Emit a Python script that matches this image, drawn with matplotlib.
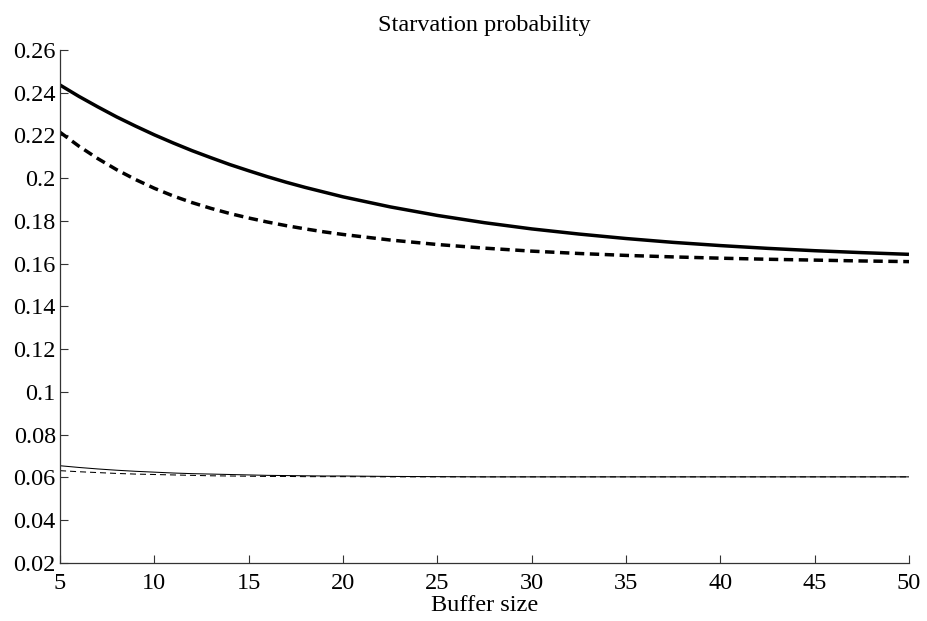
import numpy as np
import matplotlib
matplotlib.use("Agg")
import matplotlib.pyplot as plt

plt.rcParams['font.family'] = ['Liberation Serif', 'DejaVu Serif']

# buffer sizes where the curves were read
buffer_size = [5, 6, 7, 8, 9, 10, 11, 12, 13, 14, 15, 16, 17, 18, 19, 20,
               22.5, 25, 27.5, 30, 32.5, 35, 37.5, 40, 42.5, 45, 47.5, 50]

# thick curves (upper pair)
thick_solid = [0.2436, 0.2383, 0.2334, 0.2287, 0.2244, 0.2203, 0.2165, 0.2129,
               0.2096, 0.2064, 0.2035, 0.2007, 0.1981, 0.1957, 0.1935, 0.1913,
               0.1866, 0.1826, 0.1792, 0.1763, 0.1739, 0.1718, 0.1700, 0.1685,
               0.1672, 0.1661, 0.1652, 0.1644]
thick_dashed = [0.2215, 0.2150, 0.2092, 0.2040, 0.1994, 0.1953, 0.1917, 0.1886,
                0.1859, 0.1835, 0.1814, 0.1795, 0.1778, 0.1763, 0.1749, 0.1737,
                0.1711, 0.1690, 0.1673, 0.1659, 0.1648, 0.1639, 0.1632, 0.1626,
                0.1621, 0.1617, 0.1613, 0.1610]

# thin curves (lower pair)
thin_solid = [0.0655, 0.0647, 0.0640, 0.0634, 0.0629, 0.0625, 0.0621, 0.0618,
              0.0616, 0.0614, 0.0612, 0.0610, 0.0609, 0.0608, 0.0607, 0.0607,
              0.0605, 0.0604, 0.0603, 0.0603, 0.0603, 0.0603, 0.0603, 0.0603,
              0.0603, 0.0603, 0.0603, 0.0603]
thin_dashed = [0.0632, 0.0627, 0.0623, 0.0619, 0.0616, 0.0614, 0.0612, 0.0610,
               0.0608, 0.0607, 0.0606, 0.0605, 0.0605, 0.0604, 0.0604, 0.0604,
               0.0603, 0.0603, 0.0603, 0.0603, 0.0603, 0.0603, 0.0603, 0.0603,
               0.0603, 0.0603, 0.0603, 0.0603]

xticks = [5, 10, 15, 20, 25, 30, 35, 40, 45, 50]
yticks = [0.02, 0.04, 0.06, 0.08, 0.1, 0.12, 0.14, 0.16, 0.18, 0.2, 0.22, 0.24, 0.26]
ytick_labels = ['0.02', '0.04', '0.06', '0.08', '0.1', '0.12', '0.14', '0.16',
                '0.18', '0.2', '0.22', '0.24', '0.26']

fig = plt.figure(figsize=(9.28, 6.21), dpi=100)
ax = fig.add_axes([0.0647, 0.0934, 0.9148, 0.8261])

ax.plot(buffer_size, thick_solid, color='black', lw=2.5, solid_capstyle='butt')
ax.plot(buffer_size, thick_dashed, color='black', lw=2.5, linestyle=(0, (2.7, 1.6)),
        dash_capstyle='butt')
ax.plot(buffer_size, thin_solid, color='black', lw=0.75)
ax.plot(buffer_size, thin_dashed, color='black', lw=0.75, linestyle=(0, (5.8, 3.8)))

ax.set_xlim(5, 50)
ax.set_ylim(0.02, 0.26)
ax.set_xticks(xticks)
ax.set_xticklabels([str(t) for t in xticks])
ax.set_yticks(yticks)
ax.set_yticklabels(ytick_labels)

for side in ['top', 'right']:
    ax.spines[side].set_visible(False)
for side in ['left', 'bottom']:
    ax.spines[side].set_linewidth(0.9)
    ax.spines[side].set_color('#333333')

ax.tick_params(direction='in', length=6, width=0.8, color='#333333',
               labelsize=17.5)
ax.tick_params(axis='y', pad=3)
ax.tick_params(axis='x', pad=7)

ax.set_xlabel('Buffer size', fontsize=17.5, labelpad=1)
ax.set_title('Starvation probability', fontsize=17.5, pad=14)

fig.savefig('out.png', dpi=100)
